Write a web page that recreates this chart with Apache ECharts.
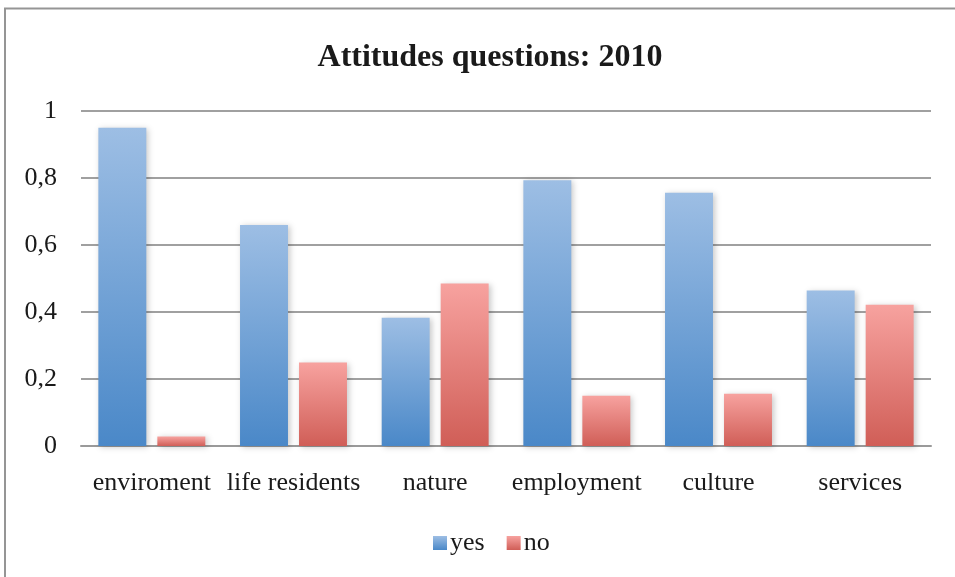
<!DOCTYPE html>
<html>
<head>
<meta charset="utf-8">
<script src="https://cdn.jsdelivr.net/npm/echarts@6/dist/echarts.min.js"></script>
<style>html,body{margin:0;padding:0;background:#fff;}#c{width:955px;height:577px;}</style>
</head>
<body>
<div id="c"></div>
<script>
const categories = ['enviroment', 'life residents', 'nature', 'employment', 'culture', 'services'];
const yesValues = [0.95, 0.66, 0.383, 0.793, 0.756, 0.464];
const noValues = [0.028, 0.249, 0.485, 0.15, 0.156, 0.422];
const yTicks = { min: 0, max: 1, interval: 0.2 };

const FONT = '"Liberation Serif", "Times New Roman", serif';
function grad(top, bottom) {
  return new echarts.graphic.LinearGradient(0, 0, 0, 1, [
    { offset: 0, color: top }, { offset: 1, color: bottom }
  ]);
}
const chart = echarts.init(document.getElementById('c'));
chart.setOption({
  animation: false,
  backgroundColor: '#fff',
  graphic: [{
    type: 'rect', silent: true,
    shape: { x: 5, y: 8.5, width: 1000, height: 600 },
    style: { fill: 'none', stroke: '#959595', lineWidth: 2 }
  }],
  title: {
    text: 'Attitudes questions: 2010',
    left: 485, top: 37, textAlign: 'center',
    textStyle: { fontFamily: FONT, fontWeight: 'bold', fontSize: 32, color: '#1a1a1a' }
  },
  grid: { left: 81, right: 24, top: 111, bottom: 131, containLabel: false },
  legend: {
    left: 428, top: 525,
    itemWidth: 14, itemHeight: 14, itemGap: 22,
    icon: 'rect',
    textStyle: { fontFamily: FONT, fontSize: 26, color: '#1a1a1a', padding: [0, 0, 0, -2] },
    data: ['yes', 'no']
  },
  xAxis: {
    type: 'category', data: categories,
    axisLine: { lineStyle: { color: '#9a9a9a', width: 2 } },
    axisTick: { show: false },
    axisLabel: { fontFamily: FONT, fontSize: 26, color: '#1a1a1a', margin: 24, interval: 0 }
  },
  yAxis: {
    type: 'value', min: yTicks.min, max: yTicks.max, interval: yTicks.interval,
    axisLine: { show: false }, axisTick: { show: false },
    splitLine: { lineStyle: { color: '#a0a0a0', width: 2 } },
    axisLabel: {
      fontFamily: FONT, fontSize: 26, color: '#1a1a1a', margin: 24,
      padding: [10, 0, 0, 0],
      formatter: v => String(+v.toFixed(1)).replace('.', ',')
    }
  },
  series: [{
    name: 'yes', type: 'bar', data: yesValues,
    barCategoryGap: '24.5%', barGap: '23%',
    itemStyle: { color: grad('#9dbee4', '#4a88c8'), shadowBlur: 6, shadowColor: 'rgba(0,0,0,0.22)', shadowOffsetX: 2, shadowOffsetY: 1 }
  }, {
    name: 'no', type: 'bar', data: noValues,
    barCategoryGap: '24.5%', barGap: '23%',
    itemStyle: { color: grad('#f7a29f', '#d05e57'), shadowBlur: 6, shadowColor: 'rgba(0,0,0,0.22)', shadowOffsetX: 2, shadowOffsetY: 1 }
  }]
});
</script>
</body>
</html>
